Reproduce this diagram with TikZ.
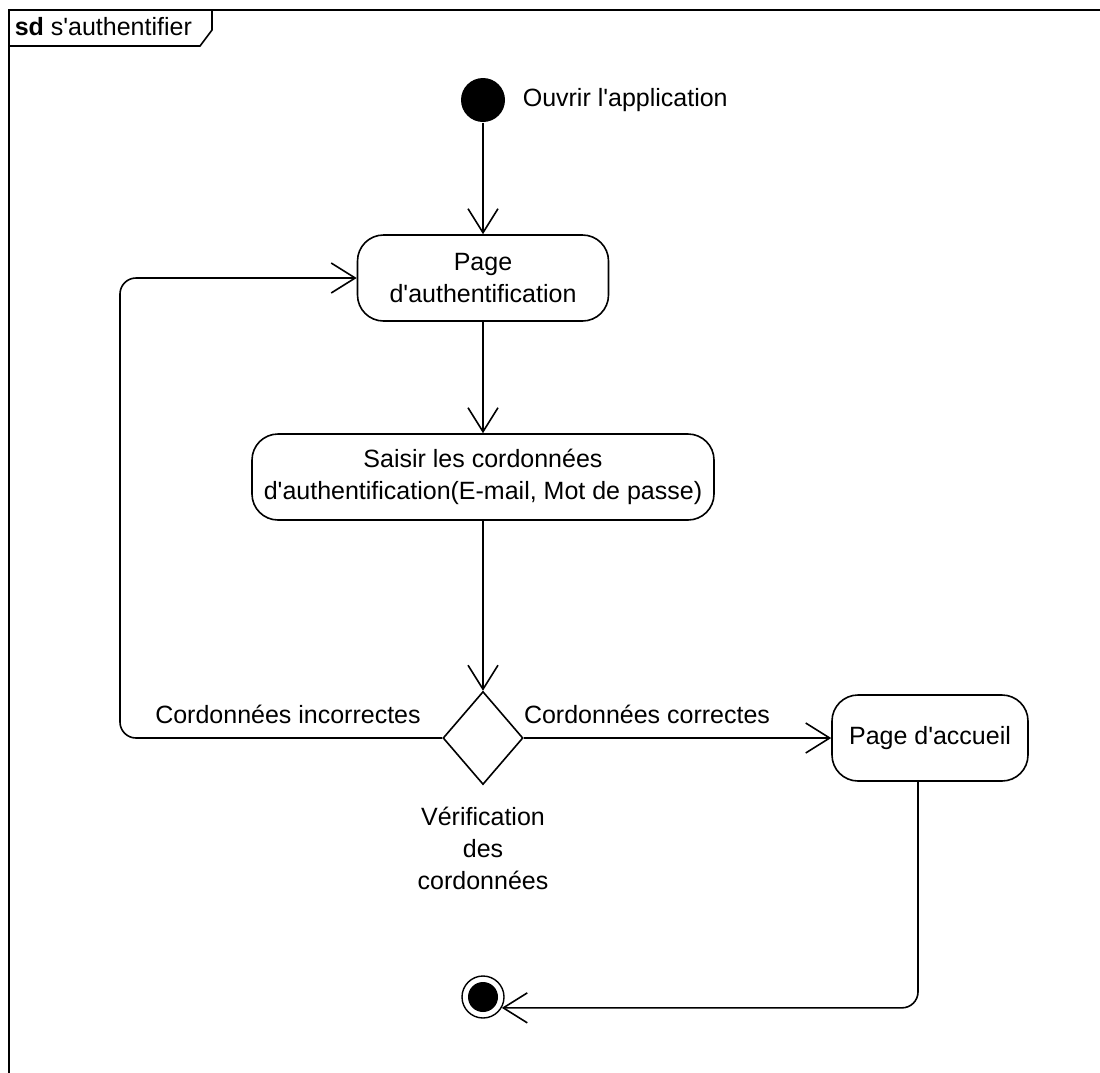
\documentclass[tikz,border=0pt]{standalone}
\usepackage{fontspec}
\setmainfont{Liberation Sans}
\usetikzlibrary{arrows.meta, shapes.geometric, positioning}

\begin{document}
\begin{tikzpicture}[
    x=1pt, y=-1pt,
    line width=1.6pt,
    every node/.style={font=\fontsize{25}{32}\selectfont},
    action/.style={draw, rounded corners=26pt, align=center, minimum height=86pt, inner sep=0pt},
    decision/.style={draw, diamond, minimum width=80pt, minimum height=93pt, inner sep=0pt},
    initial/.style={circle, fill=black, minimum size=44pt, inner sep=0pt},
    final/.style={circle, draw, line width=1.4pt, minimum size=42pt, inner sep=0pt},
    flowtext/.style={inner sep=0pt, align=center},
    flow/.style={-{Straight Barb[length=24pt, width=30pt]}}
]

    \useasboundingbox (0,0) rectangle (1100,1072);

    % sd frame, cut off on the right and at the bottom
    \begin{scope}
        \clip (0,0) rectangle (1100,1072);
        \draw (9,10) rectangle (1130,1100);
    \end{scope}
    \draw (9,10) -- (212,10) -- (212,30) -- (200,46) -- (9,46);
    \node[flowtext, anchor=west] (tabtext) at (14,27) {\textbf{sd} s\textquotesingle authentifier};

    % activity nodes
    \node[initial] (start) at (483,100) {};
    \node[flowtext, anchor=west] (open) at (522,100) {Ouvrir l\textquotesingle application};

    \node[action, minimum width=251pt] (auth) at (483,278) {Page\\d\textquotesingle authentification};
    \node[action, minimum width=462pt] (input) at (483,477) {Saisir les cordonnées\\d\textquotesingle authentification(E-mail, Mot de passe)};
    \node[decision] (check) at (483,738) {};
    \node[flowtext] (checktext) at (483,848) {Vérification\\des\\cordonnées};
    \node[action, minimum width=196pt] (home) at (930,738) {Page d\textquotesingle accueil};
    \node[final] (fin) at (483,997) {};
    \fill (fin.center) circle (15pt);

    % guard labels
    \node[flowtext] (wrong) at (288,714) {Cordonnées incorrectes};
    \node[flowtext] (right) at (647,714) {Cordonnées correctes};

    % transitions
    \coordinate (loop) at (120,738);
    \coordinate (drop) at (918,1008);
    \draw[flow] (start) -- (auth);
    \draw[flow] (auth) -- (input);
    \draw[flow] (input) -- (check);
    \draw[flow] (check.east) -- (home.west);
    \draw[flow, rounded corners=16pt] (check.west) -- (loop) |- (auth.west);
    \draw[flow, rounded corners=16pt] (home.south -| drop) |- (fin.-30);

\end{tikzpicture}
\end{document}
